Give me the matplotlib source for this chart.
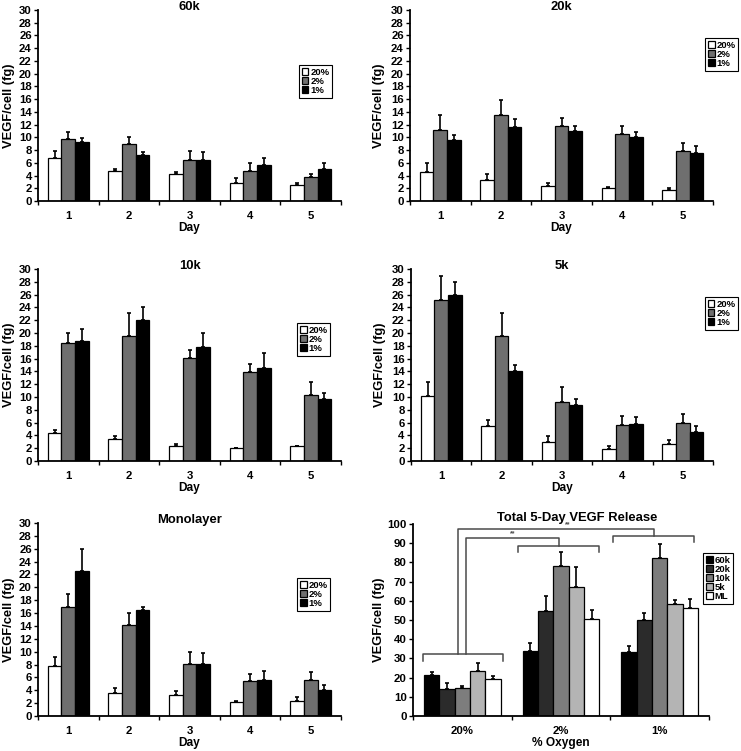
import numpy as np
import matplotlib.pyplot as plt
from matplotlib.ticker import FixedLocator, NullFormatter

plt.rcParams['font.family'] = ['Liberation Sans', 'DejaVu Sans']
plt.rcParams['font.weight'] = 'bold'

days = [1, 2, 3, 4, 5]
oxygen = ["20%", "2%", "1%"]

# moyennes et erreurs (fg/cellule), une liste par condition d'oxygène
k60_mean = {"20%": [6.8, 4.7, 4.3, 2.8, 2.5],
            "2%": [9.8, 9.0, 6.4, 4.7, 3.8],
            "1%": [9.2, 7.2, 6.4, 5.6, 5.0]}
k60_err = {"20%": [1.0, 0.3, 0.2, 0.8, 0.3],
           "2%": [1.0, 1.1, 1.5, 1.3, 0.5],
           "1%": [0.7, 0.5, 1.3, 1.2, 0.9]}

k20_mean = {"20%": [4.5, 3.3, 2.4, 2.0, 1.8],
            "2%": [11.2, 13.5, 11.8, 10.5, 7.9],
            "1%": [9.6, 11.6, 11.0, 10.1, 7.6]}
k20_err = {"20%": [1.4, 1.0, 0.5, 0.2, 0.2],
           "2%": [2.3, 2.4, 1.2, 1.3, 1.2],
           "1%": [0.7, 1.3, 0.8, 0.8, 1.0]}

k10_mean = {"20%": [4.4, 3.5, 2.4, 2.0, 2.3],
            "2%": [18.4, 19.6, 16.1, 13.9, 10.3],
            "1%": [18.8, 22.0, 17.8, 14.5, 9.7]}
k10_err = {"20%": [0.5, 0.4, 0.2, 0.1, 0.1],
           "2%": [1.6, 3.5, 1.3, 1.2, 2.0],
           "1%": [1.9, 2.0, 2.2, 2.3, 0.9]}

k5_mean = {"20%": [10.2, 5.4, 3.0, 1.9, 2.7],
           "2%": [25.2, 19.5, 9.2, 5.6, 6.0],
           "1%": [26.0, 14.0, 8.7, 5.8, 4.5]}
k5_err = {"20%": [2.2, 1.0, 0.9, 0.5, 0.6],
          "2%": [3.7, 3.6, 2.3, 1.5, 1.4],
          "1%": [2.0, 1.0, 1.0, 1.0, 1.0]}

ml_mean = {"20%": [7.8, 3.5, 3.3, 2.1, 2.4],
           "2%": [16.9, 14.2, 8.1, 5.5, 5.6],
           "1%": [22.5, 16.4, 8.1, 5.6, 4.0]}
ml_err = {"20%": [1.3, 0.8, 0.6, 0.3, 0.6],
          "2%": [2.0, 1.8, 1.9, 1.1, 1.3],
          "1%": [3.5, 0.6, 1.7, 1.4, 0.8]}

# total sur 5 jours
densities = ["60k", "20k", "10k", "5k", "ML"]
total_mean = {"60k": [21.5, 33.8, 33.2],
              "20k": [14.2, 54.8, 49.8],
              "10k": [14.6, 78.2, 82.5],
              "5k": [23.4, 67.2, 58.2],
              "ML": [19.2, 50.4, 56.5]}
total_err = {"60k": [1.5, 4.3, 3.2],
             "20k": [3.2, 7.8, 3.8],
             "10k": [0.8, 7.0, 7.0],
             "5k": [4.2, 10.4, 2.4],
             "ML": [1.4, 4.9, 4.2]}

ox_colors = {"20%": "white", "2%": "#6f6f6f", "1%": "black"}
dens_colors = {"60k": "black", "20k": "#2b2b2b", "10k": "#7d7d7d", "5k": "#b4b4b4", "ML": "white"}

fig = plt.figure(figsize=(7.41, 7.51), dpi=100)
W, H = 741, 751


def add_ax(l, r, t, b):
    return fig.add_axes([l / W, 1 - b / H, (r - l) / W, (b - t) / H])


def style(ax):
    for s in ["top", "right"]:
        ax.spines[s].set_visible(False)
    for s in ["left", "bottom"]:
        ax.spines[s].set_linewidth(1.3)
    ax.tick_params(axis="y", direction="out", length=3, width=1, labelsize=8.2, pad=1.5)
    ax.tick_params(axis="x", which="major", length=0, labelsize=8.2, pad=7)
    ax.tick_params(axis="x", which="minor", direction="out", length=3, width=1)
    for lab in ax.get_xticklabels() + ax.get_yticklabels():
        lab.set_fontweight("bold")


def make_legend(ax, xy, fs):
    leg = ax.legend(loc="upper left", bbox_to_anchor=xy, fontsize=fs, frameon=True,
                    fancybox=False, edgecolor="black", framealpha=1, borderpad=0.3,
                    handlelength=0.7, handleheight=0.7, handletextpad=0.2,
                    labelspacing=0.0, borderaxespad=0)
    leg.get_frame().set_linewidth(0.8)
    for t in leg.get_texts():
        t.set_fontweight("bold")


def day_panel(ax, title, means, errs, leg_xy, ylab_x):
    width = 0.225
    for i, ox in enumerate(oxygen):
        x = np.array(days) + (i - 1) * width
        ax.bar(x, means[ox], width, color=ox_colors[ox], edgecolor="black",
               linewidth=0.9, label=ox, zorder=2)
        ax.errorbar(x, means[ox], yerr=[np.zeros(5), errs[ox]], fmt="none",
                    ecolor="black", elinewidth=1.2, capsize=1.6, capthick=1.2, zorder=1)
    ax.set_xlim(0.5, 5.5)
    ax.set_ylim(0, 30)
    ax.set_yticks(np.arange(0, 31, 2))
    ax.set_xticks(days)
    ax.xaxis.set_minor_locator(FixedLocator(np.arange(0.5, 5.6, 1)))
    ax.xaxis.set_minor_formatter(NullFormatter())
    ax.text(0.5, 1.015, title, transform=ax.transAxes, ha="center", va="center",
            fontsize=9.4, fontweight="bold")
    ax.set_xlabel("Day", fontsize=8.6, fontweight="bold", labelpad=1)
    ax.set_ylabel("VEGF/cell (fg)", fontsize=9.3, fontweight="bold")
    ax.yaxis.set_label_coords(ylab_x, 0.5)
    style(ax)
    make_legend(ax, leg_xy, 6.8)


day_panel(add_ax(38, 341, 10, 201), "60k", k60_mean, k60_err, (0.861, 0.712), -0.076)
day_panel(add_ax(410, 713, 10, 201), "20k", k20_mean, k20_err, (0.974, 0.853), -0.083)
day_panel(add_ax(38, 341, 269, 461), "10k", k10_mean, k10_err, (0.855, 0.719), -0.076)
day_panel(add_ax(411, 713, 269, 461), "5k", k5_mean, k5_err, (0.973, 0.854), -0.083)
day_panel(add_ax(38, 341, 523, 716), "Monolayer", ml_mean, ml_err, (0.855, 0.715), -0.076)

# panneau total
ax = add_ax(413, 709, 524, 716)
groups = np.arange(1, 4)
bw = 0.156
for i, d in enumerate(densities):
    x = groups + (i - 2) * bw
    ax.bar(x, total_mean[d], bw, color=dens_colors[d], edgecolor="black",
           linewidth=0.9, label=d, zorder=2)
    ax.errorbar(x, total_mean[d], yerr=[np.zeros(3), total_err[d]], fmt="none",
                ecolor="black", elinewidth=1.2, capsize=1.6, capthick=1.2, zorder=1)
ax.set_xlim(0.5, 3.5)
ax.set_ylim(0, 100)
ax.set_yticks(np.arange(0, 101, 10))
ax.set_xticks(groups)
ax.set_xticklabels(oxygen)
ax.xaxis.set_minor_locator(FixedLocator(np.arange(0.5, 3.6, 1)))
ax.xaxis.set_minor_formatter(NullFormatter())
ax.set_xlabel("% Oxygen", fontsize=8.6, fontweight="bold", labelpad=1)
ax.set_ylabel("VEGF/cell (fg)", fontsize=9.3, fontweight="bold")
ax.yaxis.set_label_coords(-0.095, 0.5)
ax.text(0.554, 1.0, "Total 5-Day VEGF Release", transform=ax.transAxes, ha="center",
        va="bottom", fontsize=9.4, fontweight="bold")
style(ax)

# crochets de significativité
bc = "#4a4a4a"
blw = 1.1
def bracket(x0, x1, ytop, ybot):
    ax.plot([x0, x0, x1, x1], [ybot, ytop, ytop, ybot], color=bc, lw=blw,
            clip_on=False, zorder=3)

bracket(0.60, 1.41, 32.5, 28.8)
bracket(1.56, 2.39, 88.5, 85.3)
bracket(2.53, 3.35, 93.7, 90.6)
ax.plot([0.956, 0.956, 2.94, 2.94], [32.5, 97.4, 97.4, 93.7], color=bc, lw=blw, clip_on=False, zorder=3)
ax.plot([1.037, 1.037, 1.975, 1.975], [32.5, 92.7, 92.7, 88.5], color=bc, lw=blw, clip_on=False, zorder=3)
ax.text(1.51, 92.9, "**", ha="center", va="bottom", fontsize=5, color=bc)
ax.text(2.07, 97.6, "**", ha="center", va="bottom", fontsize=5, color=bc)

make_legend(ax, (0.98, 0.849), 6.8)

fig.savefig("out.png", dpi=100)
